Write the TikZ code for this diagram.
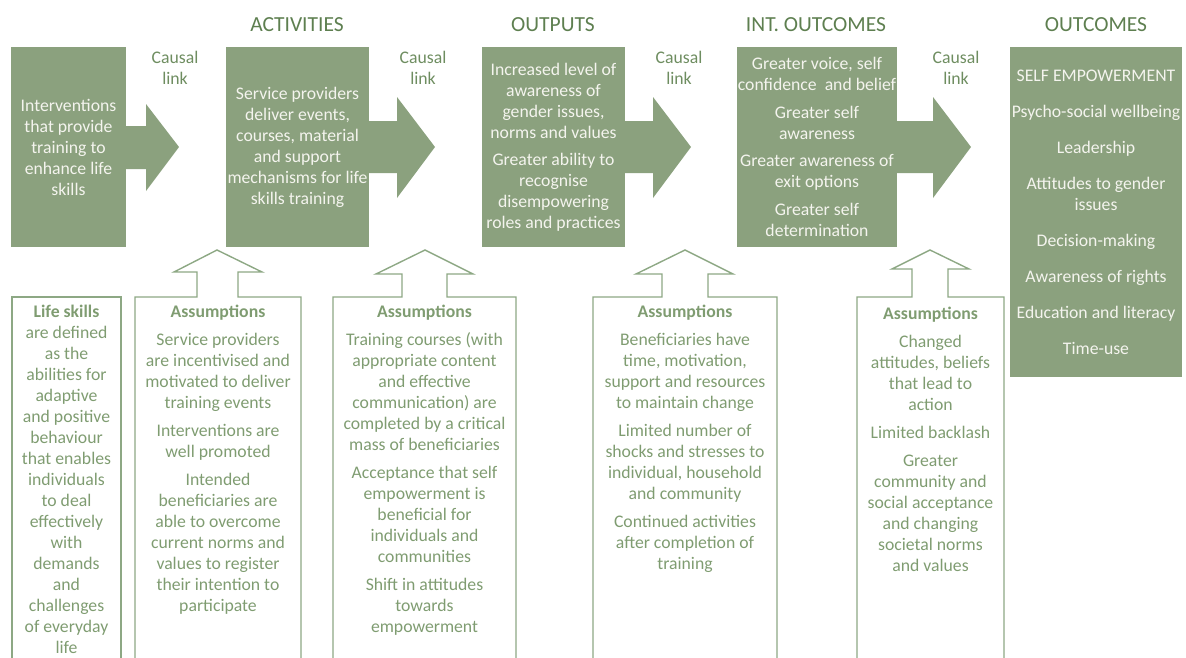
\documentclass[tikz,border=0pt]{standalone}
\usepackage{fontspec}
\setmainfont{Carlito}
\definecolor{boxfill}{HTML}{8BA17E}
\definecolor{boxtext}{HTML}{F4F4EE}
\definecolor{headc}{HTML}{5E7F50}
\definecolor{causalc}{HTML}{6E8D60}
\definecolor{asmc}{HTML}{7F9C71}
\definecolor{linec}{HTML}{8DA884}
\begin{document}
\begin{tikzpicture}[x=1pt,y=-1pt,
  greenbox/.style={fill=boxfill, draw=none, rectangle, inner sep=0pt, text=boxtext, align=center, font=\fontsize{17.7}{21}\selectfont},
  headlbl/.style={text=headc, inner sep=0pt, font=\fontsize{21.5}{24}\selectfont},
  causal/.style={text=causalc, inner sep=0pt, align=center, font=\fontsize{17.7}{21}\selectfont},
  asmtxt/.style={text=asmc, inner sep=0pt, align=center, font=\fontsize{17.7}{21}\selectfont},
  outline/.style={draw=linec, line width=1.4pt, line join=miter},
  bigarrow/.style={fill=boxfill, draw=none}
]
\useasboundingbox (0,0) rectangle (1186,657);
\clip (0,0) rectangle (1186,657);

% headings
\node[headlbl] (hact) at (297,25) {ACTIVITIES};
\node[headlbl] (hout) at (553,25) {OUTPUTS};
\node[headlbl] (hint) at (816,25) {INT. OUTCOMES};
\node[headlbl] (hoc) at (1096,25) {OUTCOMES};

% causal link labels
\node[causal] (c1) at (175,67.5) {Causal\\link};
\node[causal] (c2) at (423,67.5) {Causal\\link};
\node[causal] (c3) at (679,67.5) {Causal\\link};
\node[causal] (c4) at (956,67.5) {Causal\\link};

% arrows
\fill[bigarrow] (120,126) -- (146,126) -- (146,104) -- (179,147) -- (146,191) -- (146,169) -- (120,169) -- cycle;
\fill[bigarrow] (365,121) -- (397,121) -- (397,97) -- (435,147) -- (397,198) -- (397,173) -- (365,173) -- cycle;
\fill[bigarrow] (620,121) -- (653,121) -- (653,97) -- (691,147) -- (653,198) -- (653,173) -- (620,173) -- cycle;
\fill[bigarrow] (890,121) -- (933,121) -- (933,97) -- (971,147) -- (933,198) -- (933,173) -- (890,173) -- cycle;

% green boxes
\node[greenbox, minimum width=115pt, minimum height=200pt] (b1) at (68.5,147)
  {Interventions\\that provide\\training to\\enhance life\\skills};
\node[greenbox, minimum width=143pt, minimum height=200pt] (b2) at (297.5,147)
  {Service providers\\deliver events,\\courses, material\\and support\\mechanisms for life\\skills training};
\node[greenbox, minimum width=143pt, minimum height=200pt] (b3) at (553.5,147)
  {Increased level of\\awareness of\\gender issues,\\norms and values\\[6pt]Greater ability to\\recognise\\disempowering\\roles and practices};
\node[greenbox, minimum width=160pt, minimum height=200pt] (b4) at (817,147)
  {Greater voice, self\\confidence\ \ and belief\\[7pt]Greater self\\awareness\\[6pt]Greater awareness of\\exit options\\[7pt]Greater self\\determination};
\node[greenbox, minimum width=172pt, minimum height=330pt] (b5) at (1096,212)
  {SELF EMPOWERMENT\\[15pt]Psycho-social wellbeing\\[15pt]Leadership\\[15pt]Attitudes to gender\\issues\\[15pt]Decision-making\\[15pt]Awareness of rights\\[15pt]Education and literacy\\[15pt]Time-use};

% life skills box
\draw[outline] (12,670) -- (12,297) -- (121,297) -- (121,670);
\node[asmtxt] (ls) at (66.5,479.5)
  {\textbf{Life skills}\\are defined\\as the\\abilities for\\adaptive\\and positive\\behaviour\\that enables\\individuals\\to deal\\effectively\\with\\demands\\and\\challenges\\of everyday\\life};

% assumption boxes with up-arrows
\draw[outline] (135,670) -- (135,297) -- (197,297) -- (197,272) -- (174,272) -- (217,250) -- (262,272) -- (238,272) -- (238,297) -- (301,297) -- (301,670);
\node[asmtxt] (a1) at (218,460)
  {\textbf{Assumptions}\\[7pt]Service providers\\are incentivised and\\motivated to deliver\\training events\\[7pt]Interventions are\\well promoted\\[7pt]Intended\\beneficiaries are\\able to overcome\\current norms and\\values to register\\their intention to\\participate};

\draw[outline] (333,670) -- (333,297) -- (402,297) -- (402,274) -- (376,274) -- (425,250) -- (473,274) -- (447,274) -- (447,297) -- (516,297) -- (516,670);
\node[asmtxt] (a2) at (424.5,470)
  {\textbf{Assumptions}\\[7pt]Training courses (with\\appropriate content\\and effective\\communication) are\\completed by a critical\\mass of beneficiaries\\[7pt]Acceptance that self\\empowerment is\\beneficial for\\individuals and\\communities\\[7pt]Shift in attitudes\\towards\\empowerment};

\draw[outline] (593,670) -- (593,297) -- (662,297) -- (662,274) -- (636,274) -- (685,250) -- (733,274) -- (708,274) -- (708,297) -- (777,297) -- (777,670);
\node[asmtxt] (a3) at (685,439)
  {\textbf{Assumptions}\\[7pt]Beneficiaries have\\time, motivation,\\support and resources\\to maintain change\\[7pt]Limited number of\\shocks and stresses to\\individual, household\\and community\\[7pt]Continued activities\\after completion of\\training};

\draw[outline] (857,670) -- (857,297) -- (912,297) -- (912,269) -- (892,269) -- (930,250) -- (969,269) -- (948,269) -- (948,297) -- (1004,297) -- (1004,670);
\node[asmtxt] (a4) at (930.5,439)
  {\textbf{Assumptions}\\[7pt]Changed\\attitudes, beliefs\\that lead to\\action\\[7pt]Limited backlash\\[7pt]Greater\\community and\\social acceptance\\and changing\\societal norms\\and values};
\end{tikzpicture}
\end{document}
